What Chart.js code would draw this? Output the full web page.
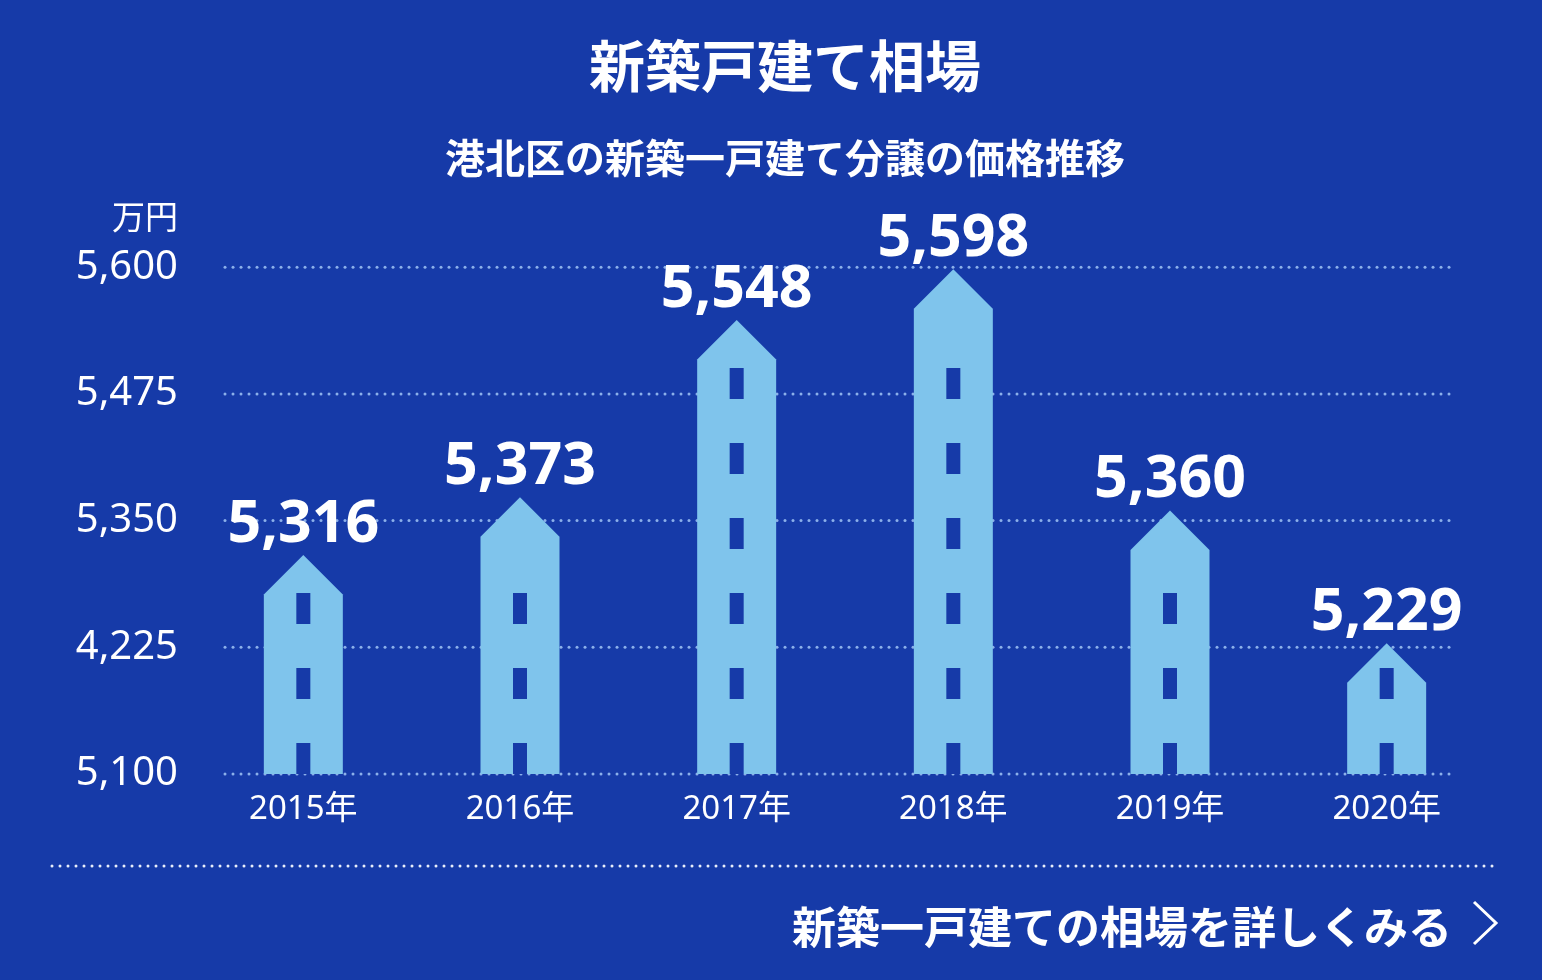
<!DOCTYPE html>
<html lang="ja">
<head>
<meta charset="utf-8">
<title>新築戸建て相場</title>
<script src="https://cdn.jsdelivr.net/npm/chart.js@4.4.1/dist/chart.umd.min.js"></script>
<style>
  html, body { margin: 0; padding: 0; background: #163aa8; }
  .wrap { position: relative; width: 1542px; height: 980px; }
</style>
</head>
<body>
<div class="wrap"><canvas id="price-chart"></canvas></div>
<script>
const years = ["2015年", "2016年", "2017年", "2018年", "2019年", "2020年"];
const prices = [5316, 5373, 5548, 5598, 5360, 5229];
// tick labels as printed on the original (the "4,225" is theirs)
const yTickLabels = ["5,100", "4,225", "5,350", "5,475", "5,600"];
const unitLabel = "万円";
const linkText = "新築一戸建ての相場を詳しくみる";

const bg = "#163aa8";
const houseColor = "#7fc4ec";
const gridDot = "#8cb0ea";
const cjk = '"Noto Sans CJK JP", sans-serif';
const num = '"Noto Sans", "Noto Sans CJK JP", sans-serif';

function dots(ctx, x0, x1, y, color) {
    ctx.fillStyle = color;
    for (let x = x0; x <= x1; x += 8) {
        ctx.beginPath();
        ctx.arc(x, y, 1.5, 0, Math.PI * 2);
        ctx.fill();
    }
}

const housePlugin = {
    id: "houses",
    beforeDatasetsDraw(chart) {
        const { ctx, scales: { y } } = chart;
        ctx.save();
        y.ticks.forEach((t) => {
            dots(ctx, 225, 1450, y.getPixelForValue(t.value), gridDot);
        });
        ctx.restore();
    },
    afterDatasetsDraw(chart) {
        const { ctx, scales: { y } } = chart;
        const meta = chart.getDatasetMeta(0);
        const ground = y.getPixelForValue(y.min);
        ctx.save();
        meta.data.forEach((bar, i) => {
            const half = bar.width / 2;
            const tip = bar.y;
            const eave = tip + half;
            ctx.fillStyle = houseColor;
            ctx.beginPath();
            ctx.moveTo(bar.x, tip);
            ctx.lineTo(bar.x + half, eave);
            ctx.lineTo(bar.x + half, ground);
            ctx.lineTo(bar.x - half, ground);
            ctx.lineTo(bar.x - half, eave);
            ctx.closePath();
            ctx.fill();

            // windows, stacked up from the ground
            ctx.fillStyle = bg;
            for (let b = ground; b - 31 >= tip + 24; b -= 75) {
                ctx.fillRect(bar.x - 7, b - 31, 14, 31);
            }

            ctx.fillStyle = "#fff";
            ctx.font = "bold 59px " + num;
            ctx.textAlign = "center";
            ctx.textBaseline = "alphabetic";
            ctx.fillText(prices[i].toLocaleString("en-US"), bar.x, tip - 13);
        });
        ctx.restore();
    },
    afterDraw(chart) {
        const ctx = chart.ctx;
        ctx.save();
        ctx.fillStyle = "#fff";
        ctx.font = "33px " + cjk;
        ctx.textAlign = "right";
        ctx.textBaseline = "middle";
        ctx.fillText(unitLabel, 178, 216);

        dots(ctx, 52, 1493, 866, "#e8eefa");

        ctx.fillStyle = "#fff";
        ctx.font = "bold 44px " + cjk;
        ctx.textAlign = "right";
        ctx.fillText(linkText, 1452, 927);

        ctx.strokeStyle = "#fff";
        ctx.lineWidth = 3;
        ctx.beginPath();
        ctx.moveTo(1474, 902);
        ctx.lineTo(1496, 923);
        ctx.lineTo(1474, 944);
        ctx.stroke();
        ctx.restore();
    },
};

const config = {
    type: "bar",
    data: {
        labels: years,
        datasets: [
            {
                data: prices,
                backgroundColor: "rgba(0,0,0,0)",
                barThickness: 79,
            },
        ],
    },
    options: {
        responsive: true,
        maintainAspectRatio: false,
        animation: false,
        layout: {
            padding: { left: 75, right: 47, top: 0, bottom: 134.4 },
        },
        scales: {
            x: {
                grid: { display: false, drawTicks: false },
                border: { display: false },
                ticks: {
                    color: "#fff",
                    padding: 16,
                    font: { family: num, size: 33 },
                },
            },
            y: {
                min: 5100,
                max: 5600,
                afterFit(scale) {
                    scale.width = 120;
                },
                grid: { display: false, drawTicks: false },
                border: { display: false },
                ticks: {
                    stepSize: 125,
                    color: "#fff",
                    padding: 17,
                    font: { family: num, size: 40 },
                    callback: (value, idx) => yTickLabels[idx],
                },
            },
        },
        plugins: {
            legend: { display: false },
            tooltip: { enabled: false },
            title: {
                display: true,
                text: "新築戸建て相場",
                color: "#fff",
                font: { family: cjk, size: 56, weight: "bold", lineHeight: 1.2 },
                padding: { top: 32.4, bottom: 0 },
            },
            subtitle: {
                display: true,
                text: "港北区の新築一戸建て分譲の価格推移",
                color: "#fff",
                font: { family: cjk, size: 40, weight: "bold", lineHeight: 1.2 },
                padding: { top: 34.6, bottom: 85 },
            },
        },
    },
    plugins: [housePlugin],
};

new Chart(document.querySelector("canvas#price-chart"), config);
</script>
</body>
</html>
